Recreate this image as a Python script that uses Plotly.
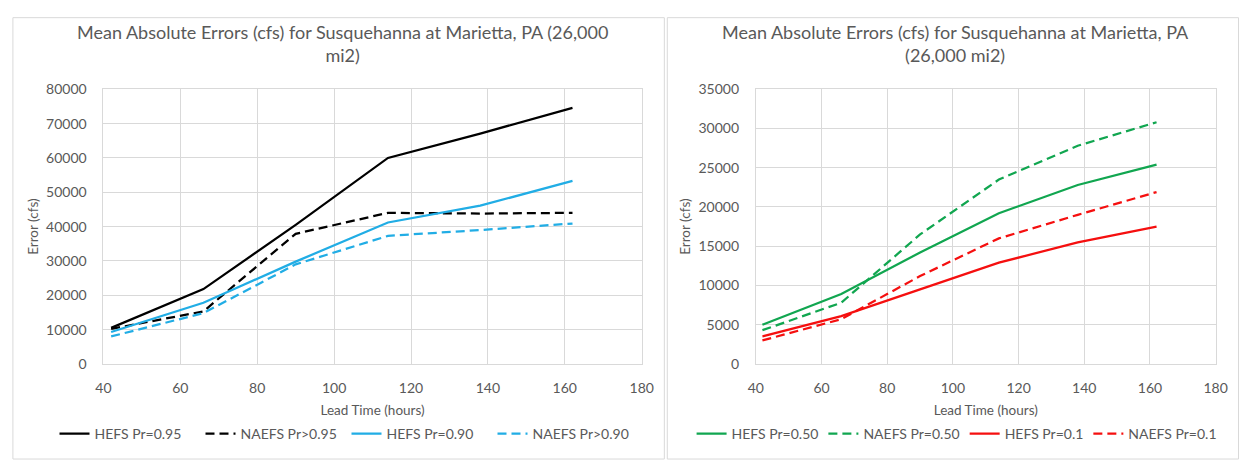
import plotly.graph_objects as go

# Forecast lead times (hours)
lead_hours = [42, 66, 90, 114, 138, 162]

# Left panel: upper-probability errors (cfs)
hefs_095 = [10500, 21800, 40500, 60000, 67100, 74600]
naefs_095 = [10200, 15300, 37900, 44000, 43800, 44000]
hefs_090 = [9300, 17800, 29800, 41200, 46100, 53300]
naefs_090 = [8000, 14800, 29000, 37300, 39000, 40900]

# Right panel: median / low-probability errors (cfs)
hefs_050 = [5000, 8900, 14200, 19200, 22800, 25400]
naefs_050 = [4300, 7800, 16500, 23500, 27800, 30800]
hefs_01 = [3500, 6100, 9500, 12900, 15500, 17500]
naefs_01 = [3000, 5700, 11200, 16000, 19000, 21900]

left_series = [
    ("HEFS Pr=0.95", hefs_095, "#000000", "solid"),
    ("NAEFS Pr>0.95", naefs_095, "#000000", "9px,5px"),
    ("HEFS Pr=0.90", hefs_090, "#21ADE5", "solid"),
    ("NAEFS Pr>0.90", naefs_090, "#21ADE5", "9px,5px"),
]
right_series = [
    ("HEFS Pr=0.50", hefs_050, "#11A650", "solid"),
    ("NAEFS Pr=0.50", naefs_050, "#11A650", "9px,5px"),
    ("HEFS Pr=0.1", hefs_01, "#F50F0F", "solid"),
    ("NAEFS Pr=0.1", naefs_01, "#F50F0F", "9px,5px"),
]

W, H = 1251, 468
FONT = "Lato"
TXT = "#595959"
GRID = "#D9D9D9"

fig = go.Figure()
for name, ys, color, dash in left_series:
    fig.add_trace(go.Scatter(x=lead_hours, y=ys, name=name, mode="lines",
                             line=dict(color=color, width=2.25, dash=dash),
                             xaxis="x", yaxis="y", legend="legend"))
for name, ys, color, dash in right_series:
    fig.add_trace(go.Scatter(x=lead_hours, y=ys, name=name, mode="lines",
                             line=dict(color=color, width=2.25, dash=dash),
                             xaxis="x2", yaxis="y2", legend="legend2"))


def px_x(p):
    return p / W


def px_y(p):
    return 1 - p / H


plot_top, plot_bottom = 83.3, 368.3
ydom = [px_y(plot_bottom), px_y(plot_top)]

axis_common = dict(
    showgrid=True, gridcolor=GRID, gridwidth=1,
    showline=True, linecolor=GRID, linewidth=1, mirror=True,
    zeroline=False, ticks="", tickformat="d",
    tickfont=dict(family=FONT, size=14, color=TXT),
    title_font=dict(family=FONT, size=13.5, color=TXT),
)

fig.update_layout(
    width=W, height=H, autosize=False,
    margin=dict(l=0, r=0, t=0, b=0),
    paper_bgcolor="white", plot_bgcolor="white",
    font=dict(family=FONT, color=TXT),
    xaxis=dict(domain=[px_x(97), px_x(644)], range=[40, 180], dtick=20,
               anchor="y", ticklabelstandoff=11,
               title=dict(text="Lead Time (hours)", standoff=10), **axis_common),
    yaxis=dict(domain=ydom, range=[0, 80000], dtick=10000, anchor="x",
               ticklabelstandoff=13,
               title=dict(text="Error (cfs)", standoff=4), **axis_common),
    xaxis2=dict(domain=[px_x(760), px_x(1227.3)], range=[40, 180], dtick=20,
                anchor="y2", ticklabelstandoff=11,
                title=dict(text="Lead Time (hours)", standoff=10), **axis_common),
    yaxis2=dict(domain=ydom, range=[0, 35000], dtick=5000, anchor="x2",
                ticklabelstandoff=13,
                title=dict(text="Error (cfs)", standoff=4), **axis_common),
    legend=dict(orientation="h", x=px_x(344), y=px_y(441), xanchor="center",
                yanchor="middle", font=dict(family=FONT, size=14, color=TXT),
                entrywidth=101, entrywidthmode="pixels",
                bgcolor="rgba(0,0,0,0)"),
    legend2=dict(orientation="h", x=px_x(964), y=px_y(441), xanchor="center",
                 yanchor="middle", font=dict(family=FONT, size=14, color=TXT),
                 bgcolor="rgba(0,0,0,0)"),
    showlegend=True,
)

# Chart frames
fig.add_shape(type="rect", xref="paper", yref="paper",
              x0=px_x(5), x1=px_x(667), y0=px_y(467), y1=px_y(9),
              line=dict(color=GRID, width=1), fillcolor="rgba(0,0,0,0)")
fig.add_shape(type="rect", xref="paper", yref="paper",
              x0=px_x(670), x1=px_x(1250.5), y0=px_y(467), y1=px_y(9),
              line=dict(color=GRID, width=1), fillcolor="rgba(0,0,0,0)")

# Chart titles
title_font = dict(family=FONT, size=18, color=TXT)
fig.add_annotation(xref="paper", yref="paper", x=px_x(340), y=px_y(36),
                   text="Mean Absolute Errors (cfs) for Susquehanna at Marietta, PA (26,000<br>mi2)",
                   showarrow=False, font=title_font, align="center",
                   xanchor="center", yanchor="middle")
fig.add_annotation(xref="paper", yref="paper", x=px_x(963), y=px_y(36),
                   text="Mean Absolute Errors (cfs) for Susquehanna at Marietta, PA<br>(26,000 mi2)",
                   showarrow=False, font=title_font, align="center",
                   xanchor="center", yanchor="middle")

fig.write_html("out.html")
